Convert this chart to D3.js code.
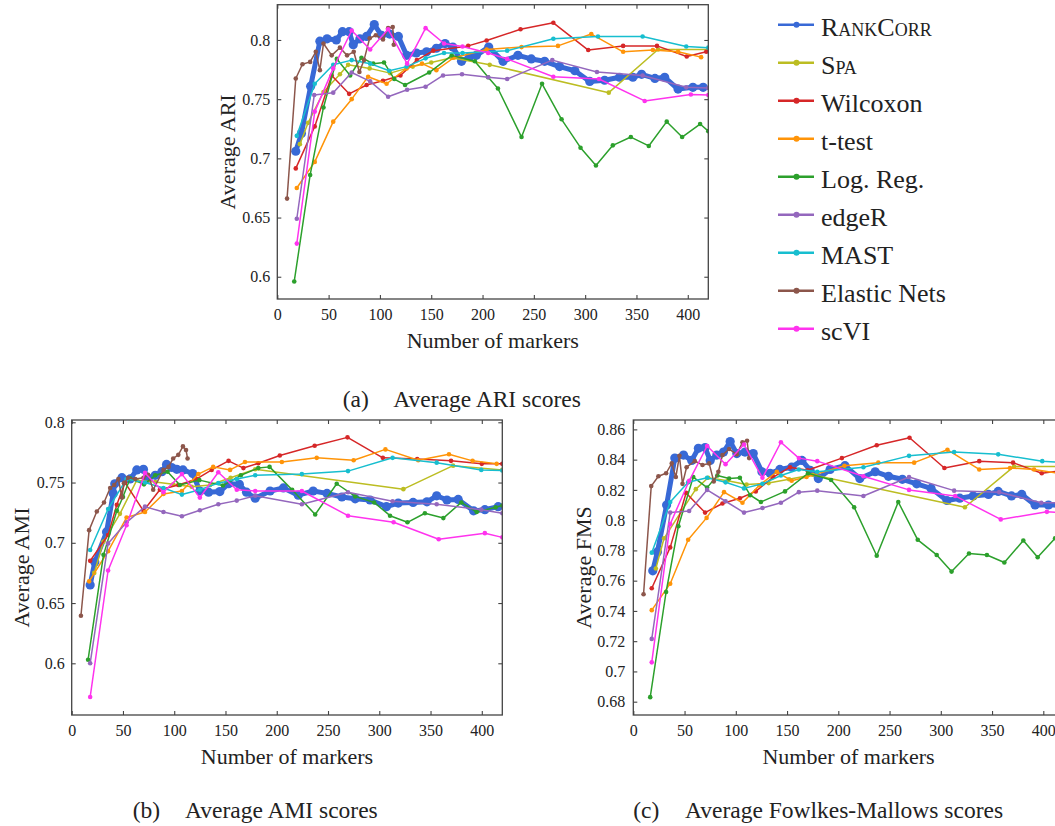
<!DOCTYPE html>
<html lang="en">
<head>
<meta charset="UTF-8">
<title>Average clustering scores vs number of markers</title>
<script src="https://d3js.org/d3.v7.min.js"></script>
<style>
  body { margin: 0; background: #ffffff; }
  svg { display: block; font-family: "Liberation Serif", "DejaVu Serif", serif; }
</style>
</head>
<body>
<div id="chart"></div>
<script>
// methods, in legend order
const methods = ["RankCorr", "Spa", "Wilcoxon", "t-test", "Log. Reg.", "edgeR", "MAST", "Elastic Nets", "scVI"];
const colors = ["#3869d6", "#bcbd22", "#d62728", "#ff9408", "#2ca02c", "#9467bd", "#17becf", "#8c564b", "#ff33ee"];

const xTicks = [0, 50, 100, 150, 200, 250, 300, 350, 400];
const ariTicks = [0.6, 0.65, 0.7, 0.75, 0.8];
const amiTicks = [0.6, 0.65, 0.7, 0.75, 0.8];
const fmsTicks = [0.68, 0.7, 0.72, 0.74, 0.76, 0.78, 0.8, 0.82, 0.84, 0.86];

// ---- (a) average ARI, [number of markers, score]
const ariRankCorr = [[18,0.706],[23.5,0.721],[32.5,0.761],[41.5,0.799],[48.5,0.801],[57.5,0.800],[63.5,0.807],[70,0.807],[74,0.796],[80.5,0.801],[87,0.803],[94.5,0.813],[101.5,0.804],[109.5,0.805],[118,0.803],[126,0.787],[135.5,0.789],[145.5,0.790],[155,0.793],[163.5,0.797],[171,0.794],[179.5,0.782],[187.5,0.786],[194,0.787],[206,0.794],[220,0.782],[234.5,0.787],[247.5,0.784],[260.5,0.782],[275,0.7775],[290,0.774],[304.5,0.765],[319,0.766],[333.5,0.7685],[346.5,0.7685],[355,0.771],[368,0.7675],[377.5,0.7685],[390.5,0.7585],[405,0.760],[415,0.760]];
const ariSpa = [[22,0.712],[30,0.730],[45,0.756],[61,0.771],[69,0.779],[90,0.776],[110,0.772],[132,0.7775],[150,0.781],[170,0.785],[207,0.779],[323,0.7555],[371,0.792],[420,0.792]];
const ariWilcoxon = [[18,0.6915],[36.5,0.727],[53,0.770],[70,0.7545],[87,0.762],[103,0.7655],[120,0.770],[136,0.783],[152,0.791],[186,0.795],[204,0.7995],[237,0.809],[269,0.8145],[303,0.7915],[337,0.795],[370,0.795],[399,0.786],[418,0.790]];
const ariTtest = [[19,0.675],[36.5,0.697],[54.5,0.731],[72.5,0.750],[88.5,0.769],[106.5,0.763],[126,0.776],[141,0.780],[155,0.7745],[172,0.785],[204,0.792],[238,0.794],[273.5,0.795],[306,0.805],[337,0.790],[366,0.7915],[390.5,0.790],[413,0.7855]];
const ariLogReg = [[16.5,0.596],[32,0.686],[45,0.743],[58,0.784],[71,0.770],[82,0.785],[93.5,0.780],[104,0.781],[114,0.767],[124.5,0.762],[148,0.7725],[170,0.787],[192.5,0.782],[205.5,0.7685],[215,0.759],[238,0.718],[258,0.763],[277,0.733],[295.5,0.709],[310.5,0.694],[327,0.711],[344.5,0.718],[362,0.7105],[379.5,0.731],[394.5,0.718],[412,0.729],[420,0.723]];
const ariEdgeR = [[19,0.649],[36,0.7535],[54.5,0.7555],[72.5,0.7725],[90.5,0.765],[108,0.752],[126.5,0.758],[144.5,0.7605],[161.5,0.770],[180,0.771],[205.5,0.7685],[224,0.767],[268,0.783],[311.5,0.773],[356,0.770],[398.5,0.760],[420,0.7595]];
const ariMast = [[19,0.719],[36.5,0.763],[54.5,0.779],[72.5,0.783],[90.5,0.780],[109,0.774],[126,0.7775],[144.5,0.7845],[162.5,0.789],[180.5,0.789],[224,0.791],[269,0.801],[312.5,0.803],[356,0.803],[398.5,0.7945],[420,0.7935]];
const ariElastic = [[9.5,0.666],[18,0.7675],[24.5,0.7795],[32,0.7815],[37.5,0.790],[41.5,0.7745],[45,0.797],[53,0.787],[61,0.7935],[68,0.787],[74.5,0.790],[80,0.773],[84.5,0.783],[90,0.8015],[96,0.804],[103,0.8005],[108,0.810],[112.5,0.811],[113.5,0.796]];
const ariScvi = [[19,0.628],[36.5,0.7395],[54.5,0.776],[72.5,0.808],[90.5,0.792],[108,0.809],[126.5,0.780],[144.5,0.810],[162.5,0.797],[180.5,0.7945],[205.5,0.789],[224,0.784],[269,0.769],[313.5,0.767],[358,0.7485],[403,0.754],[420,0.7535]];

// ---- (b) average AMI
const amiRankCorr = [[18,0.665],[22.5,0.684],[34,0.709],[40.5,0.741],[42,0.749],[49,0.754],[57,0.753],[63.5,0.7605],[70,0.761],[74.5,0.7535],[81.5,0.756],[88,0.759],[92.5,0.765],[97.5,0.7625],[102.5,0.761],[108.5,0.7605],[118,0.7575],[125,0.743],[133.5,0.742],[144.5,0.7425],[153,0.749],[163.5,0.7485],[170.5,0.742],[179,0.737],[193.5,0.743],[206.5,0.7455],[221,0.7395],[235.5,0.743],[249,0.741],[263.5,0.738],[276.5,0.7365],[291,0.7355],[307,0.730],[318.5,0.733],[333,0.7335],[346.5,0.734],[356,0.739],[366,0.7355],[377,0.736],[392,0.7265],[403,0.7275],[416,0.730]];
const amiSpa = [[22,0.675],[31,0.701],[47,0.724],[63.5,0.752],[81.5,0.7505],[99,0.7485],[117,0.7465],[135,0.748],[155,0.754],[179,0.761],[323.5,0.7445],[372,0.764],[420,0.7605]];
const amiWilcoxon = [[18,0.685],[35.5,0.7065],[44,0.7315],[52,0.750],[70,0.7265],[86,0.744],[104,0.748],[122,0.753],[136.5,0.7605],[153,0.768],[167.5,0.762],[182,0.766],[203,0.7725],[237,0.7805],[269,0.7875],[303.5,0.7705],[337,0.7695],[370,0.768],[400,0.7655],[420,0.7655]];
const amiTtest = [[17,0.668],[35.5,0.693],[53.5,0.721],[71.5,0.7255],[89.5,0.7405],[107.5,0.743],[123.5,0.757],[138,0.763],[154.5,0.7605],[169,0.767],[205,0.767],[239,0.7705],[275,0.7685],[306,0.7775],[338,0.7685],[368,0.7735],[391,0.768],[414.5,0.7655]];
const amiLogReg = [[16,0.603],[31,0.690],[44,0.7265],[50,0.738],[57,0.7535],[70.5,0.7485],[81.5,0.756],[93.5,0.759],[105.5,0.748],[124.5,0.752],[147.5,0.7475],[165,0.756],[182,0.762],[193,0.763],[215,0.744],[237.5,0.7235],[258.5,0.749],[276.5,0.7385],[295,0.7335],[310.5,0.7225],[327.5,0.717],[344.5,0.7245],[362.5,0.7205],[380,0.7335],[395,0.7255],[413.5,0.7295],[420,0.731]];
const amiEdgeR = [[18,0.600],[35.5,0.6995],[53.5,0.717],[71.5,0.730],[89.5,0.7255],[107.5,0.722],[125,0.727],[143,0.732],[161,0.735],[179,0.739],[224.5,0.732],[269.5,0.742],[313,0.7345],[356,0.732],[399.5,0.7275],[420,0.7245]];
const amiMast = [[18,0.694],[35.5,0.728],[53.5,0.753],[71.5,0.750],[89.5,0.7455],[107.5,0.740],[125,0.744],[143,0.7495],[161,0.753],[179,0.756],[224.5,0.757],[269.5,0.7595],[313,0.7705],[356,0.7665],[399.5,0.7605],[420,0.760]];
const amiElastic = [[9,0.6395],[17,0.7105],[24.5,0.726],[31.5,0.7335],[37.5,0.7455],[41.5,0.748],[45.5,0.753],[49,0.7375],[51,0.7495],[55,0.754],[62,0.753],[70,0.754],[74.5,0.7565],[79.5,0.744],[89.5,0.7605],[94.5,0.763],[99,0.770],[104,0.773],[108.5,0.780],[111.5,0.777],[113,0.770]];
const amiScvi = [[18,0.572],[35.5,0.677],[53.5,0.7145],[71.5,0.758],[89.5,0.742],[107.5,0.757],[125,0.7375],[143,0.7585],[161,0.744],[179,0.743],[224.5,0.743],[269.5,0.7225],[314,0.717],[358,0.703],[403,0.708],[420,0.7045]];

// ---- (c) average Fowlkes-Mallows
const fmsRankCorr = [[19,0.7665],[23.5,0.779],[32.5,0.810],[40.5,0.841],[49,0.843],[57,0.8395],[63.5,0.8475],[70,0.848],[75,0.8395],[81.5,0.843],[88,0.845],[94.5,0.852],[101,0.844],[109,0.845],[117,0.844],[125.5,0.832],[133.5,0.831],[143,0.8335],[154.5,0.835],[164.5,0.8395],[172.5,0.833],[180.5,0.8275],[192,0.8335],[206.5,0.836],[221,0.8275],[236,0.832],[249,0.829],[262.5,0.827],[276.5,0.824],[290.5,0.821],[306,0.813],[318.5,0.8145],[331.5,0.816],[346.5,0.817],[356,0.819],[369,0.816],[379,0.817],[392,0.810],[405,0.810],[415,0.810]];
const fmsSpa = [[22,0.768],[30,0.788],[47,0.806],[61,0.8205],[73,0.828],[92,0.826],[110.5,0.8235],[132,0.8245],[152,0.827],[175,0.830],[323.5,0.8085],[371.5,0.8355],[420,0.8355]];
const fmsWilcoxon = [[18,0.755],[36,0.782],[51.5,0.818],[70,0.805],[87,0.811],[104,0.8145],[119.5,0.819],[136.5,0.8285],[153,0.835],[170,0.833],[203.5,0.841],[237.5,0.8495],[269.5,0.8545],[303.5,0.8345],[337.5,0.839],[370.5,0.838],[398.5,0.831],[420,0.833]];
const fmsTtest = [[18,0.7405],[36,0.758],[53.5,0.787],[71.5,0.8015],[88.5,0.8185],[106.5,0.8115],[123,0.823],[140,0.832],[154.5,0.826],[169,0.8285],[206,0.836],[239,0.838],[274,0.838],[306.5,0.8465],[337.5,0.8335],[367.5,0.8345],[391,0.8335],[420,0.8305]];
const fmsLogReg = [[16.5,0.683],[32,0.7525],[44,0.796],[58.5,0.8285],[72,0.8215],[82,0.8295],[93.5,0.8275],[104,0.828],[114,0.8165],[124.5,0.812],[148,0.819],[170.5,0.831],[193,0.8265],[215.5,0.8085],[237.5,0.7765],[258.5,0.812],[277.5,0.787],[296,0.777],[310.5,0.766],[327.5,0.778],[345,0.777],[362,0.772],[380.5,0.7865],[394.5,0.7755],[411.5,0.788],[420,0.790]];
const fmsEdgeR = [[18,0.7215],[36,0.805],[54.5,0.806],[72,0.820],[90,0.8125],[108,0.805],[126,0.808],[144,0.8115],[161.5,0.8185],[179.5,0.8195],[224.5,0.816],[269,0.8285],[313,0.8195],[357,0.8185],[398,0.8115],[420,0.8115]];
const fmsMast = [[18,0.7785],[36,0.812],[53.5,0.825],[72,0.828],[90,0.825],[108,0.821],[126,0.824],[144,0.8295],[161.5,0.8335],[179.5,0.832],[224.5,0.835],[269,0.8425],[313,0.845],[356,0.8435],[399,0.839],[420,0.838]];
const fmsElastic = [[10,0.751],[17.5,0.8225],[24.5,0.829],[32,0.831],[37.5,0.8375],[41.5,0.8285],[45,0.8425],[48,0.824],[52,0.835],[60,0.839],[67.5,0.8365],[74,0.8375],[78.5,0.8255],[83,0.832],[87,0.843],[93.5,0.847],[101,0.8435],[106.5,0.8515],[111,0.8525],[113,0.841]];
const fmsScvi = [[18,0.706],[36,0.7975],[54.5,0.826],[72,0.849],[90,0.837],[108,0.850],[126,0.828],[144,0.8515],[161.5,0.841],[179.5,0.839],[224.5,0.829],[269,0.820],[314,0.816],[358.5,0.8005],[403.5,0.8055],[420,0.805]];

const W = 1055, H = 826;
const svg = d3.select("#chart").append("svg")
    .attr("width", W).attr("height", H);

// panel boxes (pixel layout) and value ranges
const panels = [
  { id: "a", left: 277.3, right: 708.3, top: 4.7, bottom: 299, yDomain: [0.5812, 0.8298], yTicks: ariTicks,
    ylabel: "Average ARI", tag: "(a)", caption: "Average ARI scores", tagX: 342.7, capX: 393.3, capY: 406.7, yPad: 7,
    series: [ariRankCorr, ariSpa, ariWilcoxon, ariTtest, ariLogReg, ariEdgeR, ariMast, ariElastic, ariScvi] },
  { id: "b", left: 71.7, right: 502.3, top: 420, bottom: 715, yDomain: [0.5571, 0.8019], yTicks: amiTicks,
    ylabel: "Average AMI", tag: "(b)", caption: "Average AMI scores", tagX: 132.7, capX: 185, capY: 818, yPad: 7,
    series: [amiRankCorr, amiSpa, amiWilcoxon, amiTtest, amiLogReg, amiEdgeR, amiMast, amiElastic, amiScvi] },
  { id: "c", left: 633.3, right: 1063.8, top: 420, bottom: 715, yDomain: [0.6712, 0.8662], yTicks: fmsTicks,
    ylabel: "Average FMS", tag: "(c)", caption: "Average Fowlkes-Mallows scores", tagX: 633.3, capX: 685, capY: 818, yPad: 8,
    series: [fmsRankCorr, fmsSpa, fmsWilcoxon, fmsTtest, fmsLogReg, fmsEdgeR, fmsMast, fmsElastic, fmsScvi] }
];

const fmt = d3.format("~g");

panels.forEach(p => {
  const x = d3.scaleLinear().domain([0, 420]).range([p.left, p.right]);
  const y = d3.scaleLinear().domain(p.yDomain).range([p.bottom, p.top]);
  const g = svg.append("g");

  g.append("clipPath").attr("id", "clip-" + p.id)
    .append("rect")
    .attr("x", p.left).attr("y", p.top)
    .attr("width", p.right - p.left).attr("height", p.bottom - p.top);

  // axes: ticks pointing inward on all four sides
  const axB = g.append("g").attr("transform", `translate(0,${p.bottom})`)
    .call(d3.axisBottom(x).tickValues(xTicks).tickSize(-4).tickPadding(9.6).tickFormat(d3.format("d")));
  const axT = g.append("g").attr("transform", `translate(0,${p.top})`)
    .call(d3.axisTop(x).tickValues(xTicks).tickSize(-4).tickFormat(""));
  const axL = g.append("g").attr("transform", `translate(${p.left},0)`)
    .call(d3.axisLeft(y).tickValues(p.yTicks).tickSize(-4).tickPadding(p.yPad).tickFormat(fmt));
  const axR = g.append("g").attr("transform", `translate(${p.right},0)`)
    .call(d3.axisRight(y).tickValues(p.yTicks).tickSize(-4).tickFormat(""));
  [axB, axT, axL, axR].forEach(a => {
    a.attr("font-family", null).attr("font-size", null);
    a.select(".domain").remove();
    a.selectAll(".tick line").attr("stroke", "#444").attr("stroke-width", 1.1);
    a.selectAll("text").attr("font-size", 16).attr("fill", "#222");
  });

  // series
  const line = d3.line().x(d => x(d[0])).y(d => y(d[1]));
  const plot = g.append("g").attr("clip-path", `url(#clip-${p.id})`);
  p.series.forEach((s, i) => {
    const thick = i === 0;
    const sg = plot.append("g");
    sg.append("path").datum(s)
      .attr("fill", "none")
      .attr("stroke", colors[i])
      .attr("stroke-width", thick ? 5 : 1.5)
      .attr("stroke-linejoin", "round")
      .attr("d", line);
    sg.selectAll("circle").data(s).join("circle")
      .attr("cx", d => x(d[0])).attr("cy", d => y(d[1]))
      .attr("r", thick ? 4.6 : 2.3)
      .attr("fill", colors[i]);
  });

  // frame
  g.append("rect")
    .attr("x", p.left).attr("y", p.top)
    .attr("width", p.right - p.left).attr("height", p.bottom - p.top)
    .attr("fill", "none").attr("stroke", "#444").attr("stroke-width", 1.3);

  // axis titles
  g.append("text")
    .attr("x", (p.left + p.right) / 2).attr("y", p.bottom + 49)
    .attr("text-anchor", "middle").attr("font-size", 22).attr("fill", "#222")
    .text("Number of markers");
  g.append("text")
    .attr("transform", `translate(${p.left - 42.5},${(p.top + p.bottom) / 2}) rotate(-90)`)
    .attr("text-anchor", "middle").attr("font-size", 22).attr("fill", "#222")
    .text(p.ylabel);

  // caption
  g.append("text").attr("x", p.tagX).attr("y", p.capY)
    .attr("font-size", 23.5).attr("fill", "#222").text(p.tag);
  g.append("text").attr("x", p.capX).attr("y", p.capY)
    .attr("font-size", 23.5).attr("fill", "#222").text(p.caption);
});

// legend
const legend = svg.append("g");
methods.forEach((m, i) => {
  const ly = 24.8 + i * 38;
  legend.append("line")
    .attr("x1", 778).attr("x2", 814).attr("y1", ly).attr("y2", ly)
    .attr("stroke", colors[i]).attr("stroke-width", 2.6);
  legend.append("circle")
    .attr("cx", 796.5).attr("cy", ly).attr("r", 3)
    .attr("fill", colors[i]);
  const t = legend.append("text")
    .attr("x", 821).attr("y", ly + 11)
    .attr("font-size", 26).attr("fill", "#222")
    .text(m);
  if (m === "RankCorr" || m === "Spa") t.style("font-variant", "small-caps");
});
</script>
</body>
</html>
